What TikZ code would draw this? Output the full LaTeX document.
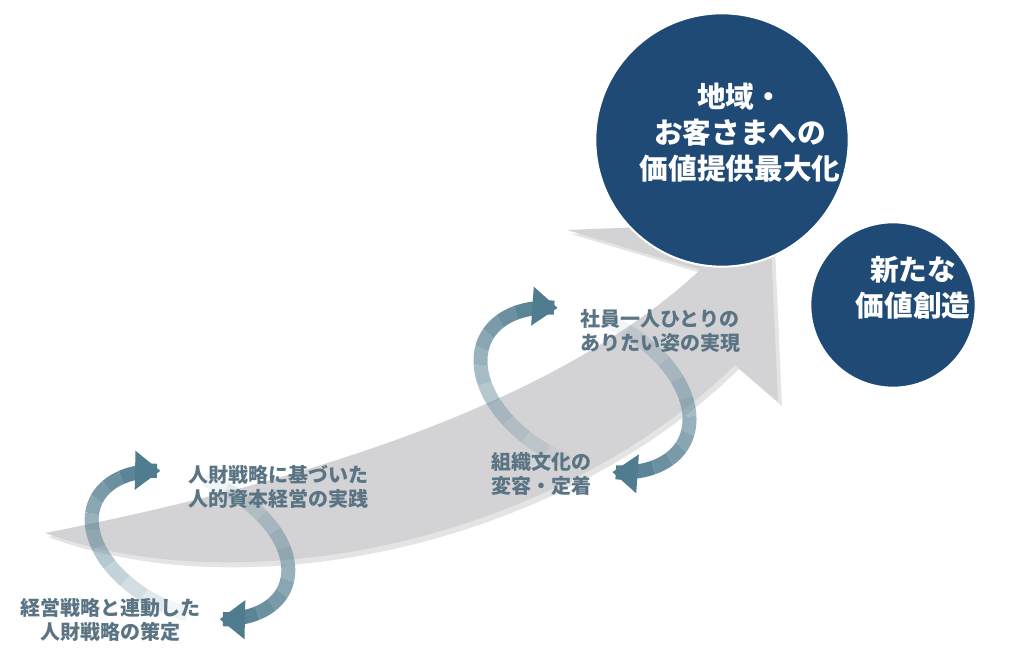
\documentclass[tikz,border=0pt]{standalone}
\usepackage{fontspec}
\newfontfamily\cjk{Noto Sans CJK JP}
\usetikzlibrary{arrows.meta}
\definecolor{navy}{HTML}{1F4A75}
\definecolor{band}{HTML}{D3D3D6}
\definecolor{cyc}{HTML}{4F7C8E}
\definecolor{txt}{HTML}{5A7484}
\newcommand\cycarrow[7]{%
  \pgfmathsetmacro\dd{(#7-#6)/12}
  \foreach \s in {0,...,10}{
    \pgfmathsetmacro\op{0.08+0.085*\s}
    \draw[cyc,line width=10.5pt,draw opacity=\op,line cap=butt]
      plot[domain={#6+\s*\dd}:{#6+(\s+1)*\dd},samples=8,smooth]
      ({#1+#3*cos(\x)*cos(#5)-#4*sin(\x)*sin(#5)},{#2+#3*cos(\x)*sin(#5)+#4*sin(\x)*cos(#5)});
  }
  \draw[cyc,line width=10.5pt,-{Triangle[width=28pt,length=19pt]}]
      plot[domain={#6+11*\dd}:{#7},samples=6,smooth]
      ({#1+#3*cos(\x)*cos(#5)-#4*sin(\x)*sin(#5)},{#2+#3*cos(\x)*sin(#5)+#4*sin(\x)*cos(#5)});
}
\begin{document}
\begin{tikzpicture}[x=0.75pt,y=-0.75pt,
  lbl/.style={text=txt,font=\cjk\bfseries\fontsize{15}{17.5}\selectfont,align=center},
  clbl/.style={text=white,font=\cjk\bfseries\fontsize{21.5}{27}\selectfont,align=center},
  circ/.style={circle,fill=navy,draw=white,line width=1.5pt,inner sep=0pt}]
\useasboundingbox (0,0) rectangle (1021,659);
% big gray arrow
\fill[gray!60,opacity=0.35] (48,537) .. controls (300,487) and (560,410) .. (704,274)
  -- (571,234) -- (774,226) -- (782,406) -- (739,369)
  .. controls (560,545) and (250,612) .. (48,537) -- cycle;
\fill[band] (45,533) .. controls (300,483) and (555,405) .. (700,270)
  -- (567,230) -- (770,222) -- (778,402) -- (735,365)
  .. controls (556,540) and (248,606) .. (45,533) -- cycle;
% circles
\node[circ,minimum size=124pt] (c2) at (893,305) {};
\node[circ,minimum size=190pt] (c1) at (722,140) {};
\node[clbl] (t1) at (740,133) {地域・\\お客さまへの\\価値提供最大化};
\node[clbl] (t2) at (913,288) {新たな\\価値創造};
% cycles
\cycarrow{190}{545}{104}{66}{25}{75}{236}
\cycarrow{190}{545}{104}{66}{25}{262}{416}
\cycarrow{585}{390}{112}{72}{28}{80}{236}
\cycarrow{585}{390}{112}{72}{28}{262}{416}
% labels
\node[lbl] (l1) at (110,620) {経営戦略と連動した\\人財戦略の策定};
\node[lbl] (l2) at (278,487) {人財戦略に基づいた\\人的資本経営の実践};
\node[lbl] (l3) at (541,474) {組織文化の\\変容・定着};
\node[lbl] (l4) at (660,331) {社員一人ひとりの\\ありたい姿の実現};
\end{tikzpicture}
\end{document}
